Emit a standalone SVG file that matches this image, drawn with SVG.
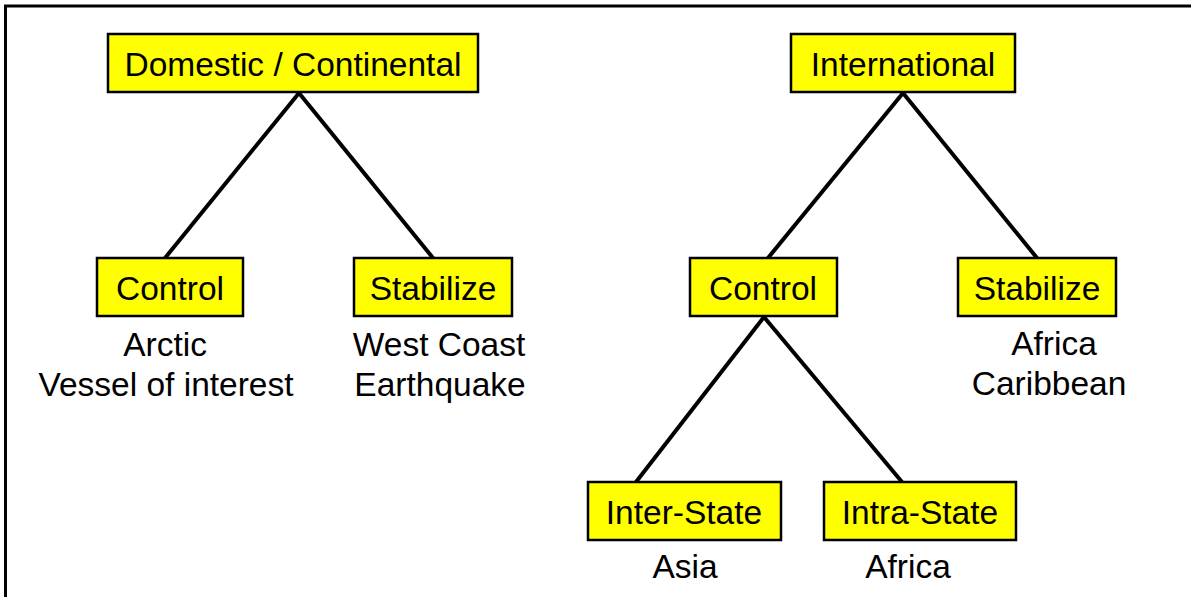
<svg xmlns="http://www.w3.org/2000/svg" width="1191" height="597" viewBox="0 0 1191 597">
  <style>
    .box { fill: #ffff00; stroke: #000; stroke-width: 2.5; }
    .lbl { font-family: "Liberation Sans", Arial, sans-serif; font-size: 33.5px; fill: #000; text-anchor: middle; }
    .sub { font-family: "Liberation Sans", Arial, sans-serif; font-size: 33.5px; fill: #000; text-anchor: middle; }
    .edge { stroke: #000; stroke-width: 4; fill: none; }
  </style>
  <rect x="0" y="0" width="1191" height="597" fill="#fff"/>
  <!-- frame -->
  <path d="M5.5 597 V6 H1191" fill="none" stroke="#000" stroke-width="3"/>

  <g id="connectors">
    <line class="edge" x1="299" y1="93" x2="165" y2="258"/>
    <line class="edge" x1="299" y1="93" x2="433" y2="258"/>
    <line class="edge" x1="903" y1="93" x2="768" y2="258"/>
    <line class="edge" x1="903" y1="93" x2="1037" y2="258"/>
    <line class="edge" x1="764" y1="317" x2="636" y2="482"/>
    <line class="edge" x1="764" y1="317" x2="902" y2="482"/>
  </g>

  <g id="domestic">
    <rect class="box" x="108" y="34" width="370" height="58"/>
    <text class="lbl" x="293" y="76">Domestic / Continental</text>
  </g>
  <g id="international">
    <rect class="box" x="791" y="34" width="224" height="58"/>
    <text class="lbl" x="903" y="76">International</text>
  </g>
  <g id="dom-control">
    <rect class="box" x="97" y="258" width="146" height="58"/>
    <text class="lbl" x="170" y="300">Control</text>
    <text class="sub" x="165" y="356">Arctic</text>
    <text class="sub" x="166" y="396">Vessel of interest</text>
  </g>
  <g id="dom-stabilize">
    <rect class="box" x="354" y="258" width="158" height="58"/>
    <text class="lbl" x="433" y="300">Stabilize</text>
    <text class="sub" x="439" y="356">West Coast</text>
    <text class="sub" x="440" y="396">Earthquake</text>
  </g>
  <g id="int-control">
    <rect class="box" x="690" y="258" width="147" height="58"/>
    <text class="lbl" x="763" y="300">Control</text>
  </g>
  <g id="int-stabilize">
    <rect class="box" x="958" y="258" width="158" height="58"/>
    <text class="lbl" x="1037" y="300">Stabilize</text>
    <text class="sub" x="1054" y="355">Africa</text>
    <text class="sub" x="1049" y="395">Caribbean</text>
  </g>
  <g id="inter-state">
    <rect class="box" x="588" y="482" width="193" height="58"/>
    <text class="lbl" x="684" y="524">Inter-State</text>
    <text class="sub" x="685" y="578">Asia</text>
  </g>
  <g id="intra-state">
    <rect class="box" x="824" y="482" width="192" height="58"/>
    <text class="lbl" x="920" y="524">Intra-State</text>
    <text class="sub" x="908" y="578">Africa</text>
  </g>
</svg>
